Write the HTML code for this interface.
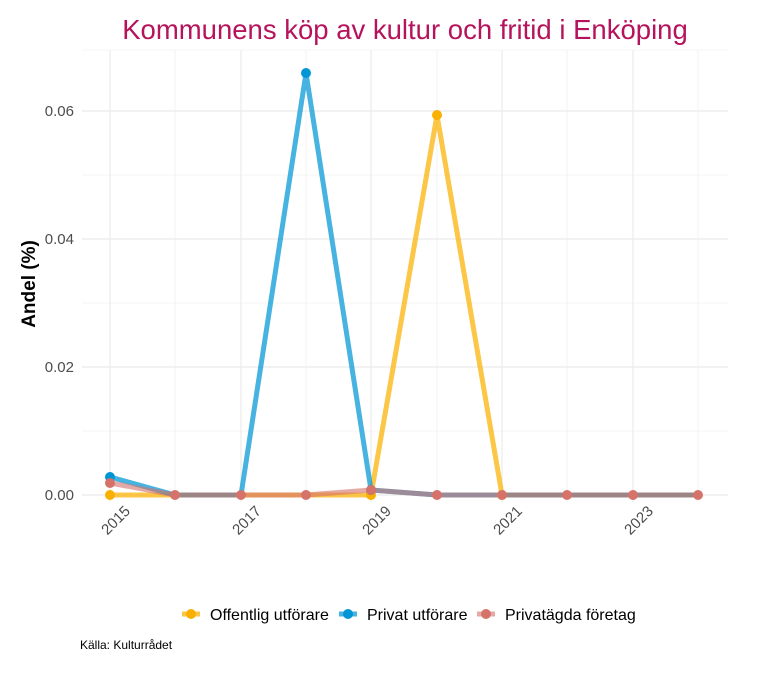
<!DOCTYPE html>
<html><head><meta charset="utf-8"><style>
body{margin:0;background:#fff;}
svg text{font-family:"Liberation Sans",sans-serif;}
</style></head><body>
<svg width="768" height="672" xmlns="http://www.w3.org/2000/svg">
<rect width="768" height="672" fill="#fff"/>
<text x="405" y="39" font-size="27.5" fill="#B5135C" text-anchor="middle">Kommunens köp av kultur och fritid i Enköping</text>
<g stroke="#EBEBEB" stroke-width="0.6">
<line x1="82" x2="728" y1="431" y2="431"/><line x1="82" x2="728" y1="303" y2="303"/><line x1="82" x2="728" y1="175" y2="175"/><line x1="82" x2="728" y1="50" y2="50"/>
<line y1="50" y2="502" x1="175" x2="175"/><line y1="50" y2="502" x1="306" x2="306"/><line y1="50" y2="502" x1="437" x2="437"/><line y1="50" y2="502" x1="567" x2="567"/><line y1="50" y2="502" x1="698" x2="698"/>
</g>
<g stroke="#EBEBEB" stroke-width="1.2">
<line x1="82" x2="728" y1="495" y2="495"/><line x1="82" x2="728" y1="367" y2="367"/><line x1="82" x2="728" y1="239" y2="239"/><line x1="82" x2="728" y1="111" y2="111"/>
<line y1="50" y2="502" x1="110" x2="110"/><line y1="50" y2="502" x1="241" x2="241"/><line y1="50" y2="502" x1="371" x2="371"/><line y1="50" y2="502" x1="502" x2="502"/><line y1="50" y2="502" x1="633" x2="633"/>
</g>
<g font-size="15" fill="#4D4D4D" text-anchor="end">
<text x="74" y="500">0.00</text><text x="74" y="372">0.02</text><text x="74" y="244">0.04</text><text x="74" y="116">0.06</text>
</g>
<g font-size="15" fill="#4D4D4D" text-anchor="end">
<text transform="translate(131,512) rotate(-45)">2015</text>
<text transform="translate(262,512) rotate(-45)">2017</text>
<text transform="translate(392,512) rotate(-45)">2019</text>
<text transform="translate(523,512) rotate(-45)">2021</text>
<text transform="translate(654,512) rotate(-45)">2023</text>
</g>
<text transform="translate(35,284) rotate(-90)" font-size="19" font-weight="bold" text-anchor="middle">Andel (%)</text>
<g fill="none" stroke-width="5" stroke-linejoin="round">
<polyline stroke="#FBB000" opacity="0.72" points="110,495 175,495 241,495 306,495 371,495 437,115 502,495 567,495 633,495 698,495"/>
<polyline stroke="#0096D6" opacity="0.72" points="110,477 175,495 241,495 306,73 371,490 437,495 502,495 567,495 633,495 698,495"/>
<polyline stroke="#D5726A" opacity="0.6" points="110,483 175,495 241,495 306,495 371,490 437,495 502,495 567,495 633,495 698,495"/>
</g>
<g fill="#F9B000"><circle cx="110" cy="495" r="5"/><circle cx="371" cy="495" r="5"/><circle cx="437" cy="115" r="5"/><circle cx="502" cy="495" r="5"/></g>
<g fill="#0096D6"><circle cx="110" cy="477" r="5"/><circle cx="306" cy="73" r="5"/><circle cx="371" cy="490" r="5"/></g>
<g fill="#D5726A"><circle cx="110" cy="483" r="5"/><circle cx="175" cy="495" r="5"/><circle cx="241" cy="495" r="5"/><circle cx="306" cy="495" r="5"/><circle cx="371" cy="490" r="5"/><circle cx="437" cy="495" r="5"/><circle cx="502" cy="495" r="5"/><circle cx="567" cy="495" r="5"/><circle cx="633" cy="495" r="5"/><circle cx="698" cy="495" r="5"/></g>
<g font-size="16" fill="#000">
<line x1="182" x2="200" y1="614" y2="614" stroke="#FBB000" stroke-width="5" opacity="0.72"/><circle cx="191" cy="614" r="5" fill="#F9B000"/>
<text x="210" y="620">Offentlig utförare</text>
<line x1="339" x2="357" y1="614" y2="614" stroke="#0096D6" stroke-width="5" opacity="0.72"/><circle cx="348" cy="614" r="5" fill="#0096D6"/>
<text x="367" y="620">Privat utförare</text>
<line x1="477" x2="495" y1="614" y2="614" stroke="#D5726A" stroke-width="5" opacity="0.6"/><circle cx="486" cy="614" r="5" fill="#D5726A"/>
<text x="505" y="620">Privatägda företag</text>
</g>
<text x="80" y="649" font-size="12" fill="#000">Källa: Kulturrådet</text>
</svg>
</body></html>
